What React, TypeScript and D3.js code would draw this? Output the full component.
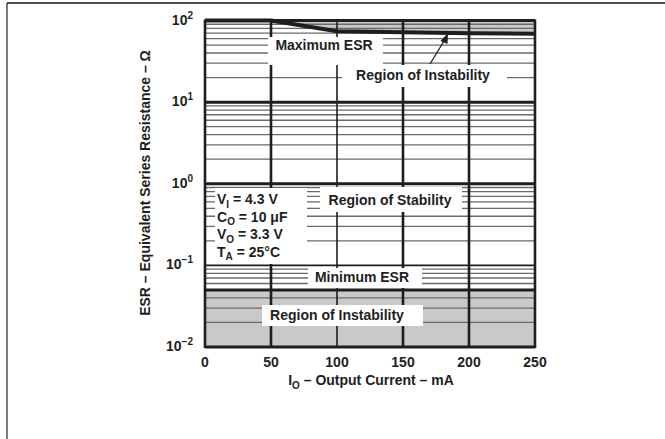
import React from "react";
import * as d3 from "d3";

const currents = [0, 50, 100, 150, 200, 250];
const maxEsr = [100, 100, 74, 72, 70, 69];
const minEsr = [0.05, 0.05, 0.05, 0.05, 0.05, 0.05];
const xTicks = [0, 50, 100, 150, 200, 250];
const yExponents = [-2, -1, 0, 1, 2];
const conditions = [
  { main: "V", sub: "I", rest: " = 4.3 V" },
  { main: "C", sub: "O", rest: " = 10 \u03bcF" },
  { main: "V", sub: "O", rest: " = 3.3 V" },
  { main: "T", sub: "A", rest: " = 25\u00b0C" },
];

const W = 665;
const H = 439;
const FONT = "'Liberation Sans', Arial, Helvetica, sans-serif";
const INK = "#1e1e1e";

export default function App() {
  const x = d3.scaleLinear().domain([0, 250]).range([205, 535]);
  const y = d3.scaleLog().domain([0.01, 100]).range([347, 20.5]);

  const minor: number[] = [];
  for (let e = -2; e < 2; e++) {
    for (let k = 2; k <= 9; k++) minor.push(k * Math.pow(10, e));
  }

  const maxLine = d3
    .line<number>()
    .x((_, i) => x(currents[i]))
    .y((d) => y(d));
  const topArea = d3
    .area<number>()
    .x((_, i) => x(currents[i]))
    .y0(() => y(100))
    .y1((d) => y(d));

  const boxes = [
    { x0: 268, x1: 383, y0: 37, y1: 65 },
    { x0: 342, x1: 507, y0: 65, y1: 87 },
    { x0: 215, x1: 307, y0: 188, y1: 264 },
    { x0: 320, x1: 462, y0: 187, y1: 212 },
    { x0: 308, x1: 422, y0: 268, y1: 288 },
    { x0: 262, x1: 423, y0: 305, y1: 326 },
  ];

  const textStyle = {
    fontFamily: FONT,
    fontWeight: 700 as const,
    fontSize: 14,
    fill: INK,
  };

  return (
    <div style={{ position: "absolute", left: 0, top: 0 }}>
      <svg width={W} height={H} style={{ display: "block", background: "#fff" }}>
        {/* frame */}
        <line x1={7} x2={W} y1={3} y2={3} stroke="#111" strokeWidth={1.5} />
        <line x1={7} x2={7} y1={3} y2={H} stroke="#333" strokeWidth={1.3} />

        {/* shaded regions */}
        <path d={topArea(maxEsr) || ""} fill="#c9c9c9" />
        <rect
          x={x(0)}
          y={y(minEsr[0])}
          width={x(250) - x(0)}
          height={y(0.01) - y(minEsr[0])}
          fill="#c9c9c9"
        />

        {/* minor horizontal grid */}
        {minor.map((v, i) => (
          <line
            key={"m" + i}
            x1={x(0)}
            x2={x(250)}
            y1={y(v)}
            y2={y(v)}
            stroke="#6a6a6a"
            strokeWidth={1.3}
          />
        ))}
        {/* decade lines */}
        {yExponents.map((e) => (
          <line
            key={"d" + e}
            x1={x(0)}
            x2={x(250)}
            y1={y(Math.pow(10, e))}
            y2={y(Math.pow(10, e))}
            stroke={INK}
            strokeWidth={e === -1 ? 1.6 : 3}
          />
        ))}
        {/* vertical grid */}
        {xTicks.map((t) => (
          <line
            key={"v" + t}
            x1={x(t)}
            x2={x(t)}
            y1={y(100) - 1}
            y2={y(0.01) + 1}
            stroke={INK}
            strokeWidth={t === 100 ? 1.6 : 2.6}
          />
        ))}

        {/* white label boxes */}
        {boxes.map((b, i) => (
          <rect key={"b" + i} x={b.x0} y={b.y0} width={b.x1 - b.x0} height={b.y1 - b.y0} fill="#fff" />
        ))}

        {/* ESR limit lines */}
        <path d={maxLine(maxEsr) || ""} fill="none" stroke={INK} strokeWidth={4} strokeLinejoin="round" />
        <path d={maxLine(minEsr) || ""} fill="none" stroke={INK} strokeWidth={3} />

        {/* arrow */}
        <line x1={430} y1={64} x2={444} y2={41} stroke={INK} strokeWidth={1.3} />
        <path d="M448,33 L440.5,41 L447.5,44 Z" fill={INK} />

        {/* annotations */}
        <text x={324} y={50} textAnchor="middle" style={textStyle}>Maximum ESR</text>
        <text x={423} y={80} textAnchor="middle" style={textStyle}>Region of Instability</text>
        <text x={390} y={205} textAnchor="middle" style={textStyle}>Region of Stability</text>
        <text x={362} y={282} textAnchor="middle" style={textStyle}>Minimum ESR</text>
        <text x={337} y={320} textAnchor="middle" style={textStyle}>Region of Instability</text>

        {conditions.map((c, i) => (
          <text key={"c" + i} x={217} y={204 + i * 17.5} style={textStyle}>
            {c.main}
            <tspan dy={3.5} fontSize={10}>{c.sub}</tspan>
            <tspan dy={-3.5}>{c.rest}</tspan>
          </text>
        ))}

        {/* y tick labels */}
        {yExponents.map((e) => (
          <text key={"yt" + e} x={193} y={y(Math.pow(10, e)) + 4} textAnchor="end" style={textStyle}>
            10
            <tspan dy={-6} fontSize={10}>{e < 0 ? "\u2212" + Math.abs(e) : String(e)}</tspan>
          </text>
        ))}

        {/* x tick labels */}
        {xTicks.map((t) => (
          <text key={"xt" + t} x={x(t)} y={367} textAnchor="middle" style={textStyle}>
            {t}
          </text>
        ))}

        {/* axis titles */}
        <text x={371} y={385} textAnchor="middle" style={textStyle}>
          I<tspan dy={3.5} fontSize={10}>O</tspan>
          <tspan dy={-3.5}> {"\u2013"} Output Current {"\u2013"} mA</tspan>
        </text>
        <text
          transform="translate(150,183) rotate(-90)"
          textAnchor="middle"
          style={textStyle}
        >
          ESR {"\u2013"} Equivalent Series Resistance {"\u2013"} {"\u03a9"}
        </text>
      </svg>
    </div>
  );
}
